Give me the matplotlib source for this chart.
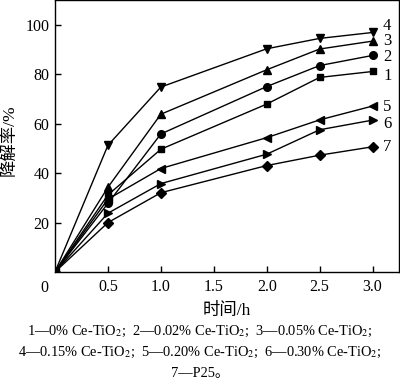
import matplotlib.pyplot as plt

plt.rcParams['font.family'] = ['Liberation Serif', 'Noto Sans CJK SC']
plt.rcParams['mathtext.fontset'] = 'stix'

# time points (h)
time_h = [0, 0.5, 1.0, 2.0, 2.5, 3.0]

# degradation rate (%) per sample
s1 = [0, 31.2, 49.7, 68.0, 78.8, 81.2]
s2 = [0, 27.8, 55.9, 75.1, 83.6, 87.7]
s3 = [0, 34.3, 63.9, 81.9, 90.3, 93.5]
s4 = [0, 51.3, 74.9, 90.4, 94.6, 97.0]
s5 = [0, 29.5, 41.9, 54.4, 61.6, 67.2]
s6 = [0, 23.8, 35.8, 47.7, 57.6, 61.5]
s7 = [0, 20.0, 32.1, 43.1, 47.3, 50.7]

series = [s1, s2, s3, s4, s5, s6, s7]
labels = ['1', '2', '3', '4', '5', '6', '7']
markers = ['s', 'o', '^', 'v', '<', '>', 'D']
sizes = [5, 5.5, 6, 6, 6, 6, 5]
# label y positions at right side (data units)
label_y = [79.5, 87, 93.5, 99.5, 67, 60, 50.5]

fig = plt.figure(figsize=(4, 3.84), dpi=100)
ax = fig.add_axes([0.1375, 0.2917, 0.86, 0.7073])

for ys, m, ms in zip(series, markers, sizes):
    ax.plot(time_h, ys, color='black', lw=1, marker=m, markersize=ms,
            markerfacecolor='black', markeredgecolor='black')

for lab, ly in zip(labels, label_y):
    ax.text(3.1, ly, lab, fontsize=12, va='center', ha='left')

ax.set_xlim(0, 3.25)
ax.set_ylim(0, 110)
ax.set_xticks([0.5, 1.0, 1.5, 2.0, 2.5, 3.0])
ax.set_xticklabels(['0.5', '1.0', '1.5', '2.0', '2.5', '3.0'])
ax.set_yticks([20, 40, 60, 80, 100])
ax.tick_params(direction='in', length=4, width=1, labelsize=11.5, pad=5)
ax.tick_params(axis='y', pad=4)
ax.text(-0.02, -0.03, '0', transform=ax.transAxes, fontsize=11.5,
        ha='right', va='top')
for sp in ax.spines.values():
    sp.set_linewidth(1)

# y label placed by hand so it stays inside the figure
fig.text(10 / 400, 1 - 140 / 384, '降解率/%', fontsize=12.5, rotation=90,
         ha='center', va='center')
ax.set_xlabel('时间/h', fontsize=12.5, labelpad=6)

caption = [r'1—0% Ce-TiO$_2$;  2—0.02% Ce-TiO$_2$;  3—0.05% Ce-TiO$_2$;',
           r'4—0.15% Ce-TiO$_2$;  5—0.20% Ce-TiO$_2$;  6—0.30% Ce-TiO$_2$;',
           '7—P25。']
for i, line in enumerate(caption):
    fig.text(0.5, 1 - (331 + 21.5 * i) / 384, line, fontsize=10.4,
             ha='center', va='center')

fig.savefig('out.png', dpi=100)
